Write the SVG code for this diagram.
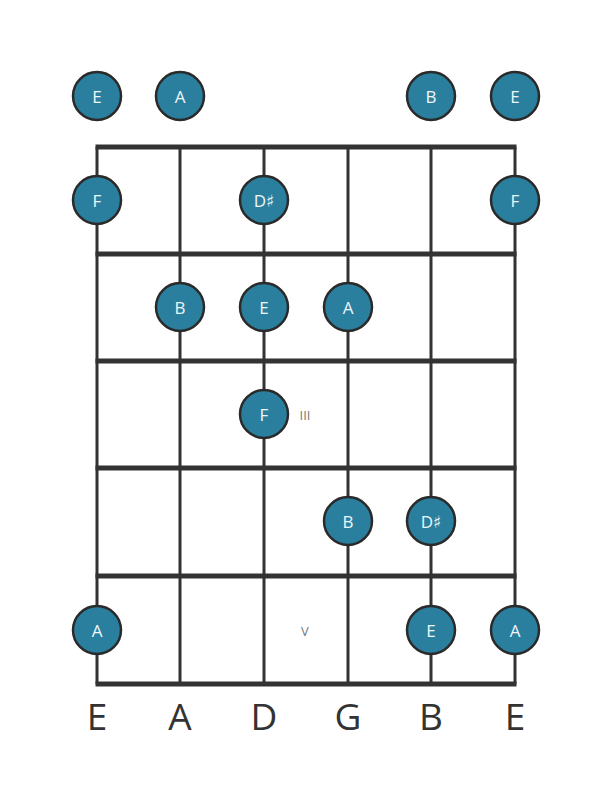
<svg xmlns="http://www.w3.org/2000/svg" width="611" height="801" viewBox="0 0 611 801">
<style>
.fret{stroke:#333;stroke-width:5;fill:none}
.str{stroke:#333;stroke-width:3;fill:none}
.dot circle{fill:#2a7f9e;stroke:#2a2a2a;stroke-width:2.5}
.dot text{fill:#eef6f8;font-family:"Open Sans","DejaVu Sans",sans-serif;font-size:17px;text-anchor:middle;dominant-baseline:central}
.roman{fill:#777;font-family:"Open Sans","DejaVu Sans",sans-serif;font-size:13px;text-anchor:middle;dominant-baseline:central}
.lbl{fill:#333;font-family:"Open Sans","DejaVu Sans",sans-serif;font-size:37px;text-anchor:middle}
</style>
<rect width="611" height="801" fill="#fff"/>
<g id="connectors">
<line class="str" x1="97" y1="147" x2="97" y2="684"/>
<line class="str" x1="180" y1="147" x2="180" y2="684"/>
<line class="str" x1="264" y1="147" x2="264" y2="684"/>
<line class="str" x1="348" y1="147" x2="348" y2="684"/>
<line class="str" x1="431" y1="147" x2="431" y2="684"/>
<line class="str" x1="515" y1="147" x2="515" y2="684"/>
<line class="fret" x1="95.5" y1="147" x2="516.5" y2="147"/>
<line class="fret" x1="95.5" y1="254" x2="516.5" y2="254"/>
<line class="fret" x1="95.5" y1="361" x2="516.5" y2="361"/>
<line class="fret" x1="95.5" y1="468" x2="516.5" y2="468"/>
<line class="fret" x1="95.5" y1="576" x2="516.5" y2="576"/>
<line class="fret" x1="95.5" y1="684" x2="516.5" y2="684"/>
</g>
<g id="n-open-E6" class="dot"><circle cx="97" cy="96" r="24"/><text x="97" y="96">E</text></g>
<g id="n-open-A" class="dot"><circle cx="180" cy="96" r="24"/><text x="180" y="96">A</text></g>
<g id="n-open-B" class="dot"><circle cx="431" cy="96" r="24"/><text x="431" y="96">B</text></g>
<g id="n-open-E1" class="dot"><circle cx="515" cy="96" r="24"/><text x="515" y="96">E</text></g>
<g id="n-f1-E6" class="dot"><circle cx="97" cy="200" r="24"/><text x="97" y="200">F</text></g>
<g id="n-f1-D" class="dot"><circle cx="264" cy="200" r="24"/><text x="264" y="200">D♯</text></g>
<g id="n-f1-E1" class="dot"><circle cx="515" cy="200" r="24"/><text x="515" y="200">F</text></g>
<g id="n-f2-A" class="dot"><circle cx="180" cy="307" r="24"/><text x="180" y="307">B</text></g>
<g id="n-f2-D" class="dot"><circle cx="264" cy="307" r="24"/><text x="264" y="307">E</text></g>
<g id="n-f2-G" class="dot"><circle cx="348" cy="307" r="24"/><text x="348" y="307">A</text></g>
<g id="n-f3-D" class="dot"><circle cx="264" cy="414" r="24"/><text x="264" y="414">F</text></g>
<g id="n-f4-G" class="dot"><circle cx="348" cy="521" r="24"/><text x="348" y="521">B</text></g>
<g id="n-f4-B" class="dot"><circle cx="431" cy="521" r="24"/><text x="431" y="521">D♯</text></g>
<g id="n-f5-E6" class="dot"><circle cx="97" cy="630" r="24"/><text x="97" y="630">A</text></g>
<g id="n-f5-B" class="dot"><circle cx="431" cy="630" r="24"/><text x="431" y="630">E</text></g>
<g id="n-f5-E1" class="dot"><circle cx="515" cy="630" r="24"/><text x="515" y="630">A</text></g>
<text class="roman" x="305" y="415">III</text>
<text class="roman" x="305" y="631">V</text>
<g id="string-labels">
<text class="lbl" x="97" y="730">E</text>
<text class="lbl" x="180" y="730">A</text>
<text class="lbl" x="264" y="730">D</text>
<text class="lbl" x="348" y="730">G</text>
<text class="lbl" x="431" y="730">B</text>
<text class="lbl" x="515" y="730">E</text>
</g>
</svg>
